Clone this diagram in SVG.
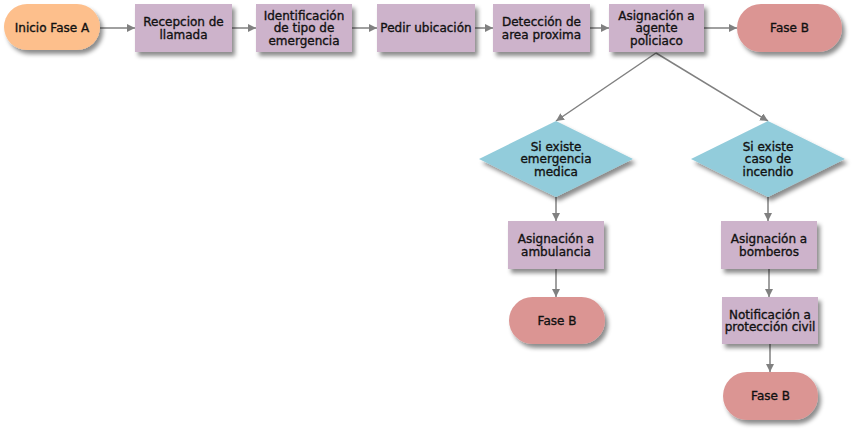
<svg xmlns="http://www.w3.org/2000/svg" width="859" height="432" viewBox="0 0 859 432">
<defs>
<filter id="sh" x="-20%" y="-20%" width="150%" height="160%">
<feDropShadow dx="3" dy="4" stdDeviation="2" flood-color="#000" flood-opacity="0.45"/>
</filter>
<marker id="ar" viewBox="0 0 10 10" refX="10" refY="5" markerWidth="8" markerHeight="8" markerUnits="userSpaceOnUse" orient="auto">
<path d="M0,0 L10,5 L0,10 z" fill="#808080"/>
</marker>
</defs>
<style>
.start{fill:#FDBF8C;filter:url(#sh)}
.proc{fill:#CDB3CB;filter:url(#sh)}
.end{fill:#DB9593;filter:url(#sh)}
.dec{fill:#92CCDB;filter:url(#sh)}
text{font-family:"DejaVu Sans","Liberation Sans",sans-serif;font-size:12px;fill:#111;stroke:#111;stroke-width:0.35;text-anchor:middle}
.c line{stroke:#808080;stroke-width:1.5;marker-end:url(#ar)}
</style>
<rect width="859" height="432" fill="#fff"/>
<g class="c">
<line x1="100" y1="28" x2="135" y2="28"/>
<line x1="232" y1="28" x2="256" y2="28"/>
<line x1="352" y1="28" x2="377" y2="28"/>
<line x1="475" y1="28" x2="493" y2="28"/>
<line x1="590" y1="28" x2="609" y2="28"/>
<line x1="704" y1="28" x2="737" y2="28"/>
<line x1="656" y1="53" x2="556" y2="121"/>
<line x1="656" y1="53" x2="768" y2="121"/>
<line x1="556" y1="197" x2="556" y2="221"/>
<line x1="556" y1="269" x2="556" y2="297"/>
<line x1="768" y1="197" x2="768" y2="221"/>
<line x1="769" y1="269" x2="769" y2="297"/>
<line x1="770" y1="344" x2="770" y2="372"/>
</g>
<g id="inicio"><rect class="start" x="4" y="4" width="96" height="46" rx="23"/><text x="52" y="32.3">Inicio Fase A</text></g>
<g id="recepcion"><rect class="proc" x="135" y="4" width="97" height="48"/><text x="183.5" y="26">Recepcion de</text><text x="183.5" y="38.5">llamada</text></g>
<g id="identificacion"><rect class="proc" x="256" y="4" width="96" height="48"/><text x="304" y="19.8">Identificación</text><text x="304" y="32.3">de tipo de</text><text x="304" y="44.8">emergencia</text></g>
<g id="pedir"><rect class="proc" x="377" y="4" width="98" height="48"/><text x="426" y="32.3">Pedir ubicación</text></g>
<g id="deteccion"><rect class="proc" x="493" y="4" width="97" height="48"/><text x="541.5" y="26">Detección de</text><text x="541.5" y="38.5">area proxima</text></g>
<g id="agente"><rect class="proc" x="609" y="4" width="95" height="48"/><text x="656.5" y="19.8">Asignación a</text><text x="656.5" y="32.3">agente</text><text x="656.5" y="44.8">policiaco</text></g>
<g id="faseB1"><rect class="end" x="737" y="4" width="105" height="48" rx="24"/><text x="789.5" y="32.3">Fase B</text></g>
<g id="medica"><polygon class="dec" points="556,121 633,159 556,197 479,159"/><text x="556" y="150.8">Si existe</text><text x="556" y="163.3">emergencia</text><text x="556" y="175.8">medica</text></g>
<g id="incendio"><polygon class="dec" points="768,121 845,159 768,197 691,159"/><text x="768" y="150.8">Si existe</text><text x="768" y="163.3">caso de</text><text x="768" y="175.8">incendio</text></g>
<g id="ambulancia"><rect class="proc" x="508" y="221" width="96" height="48"/><text x="556" y="243">Asignación a</text><text x="556" y="255.5">ambulancia</text></g>
<g id="faseB2"><rect class="end" x="509" y="297" width="96" height="47" rx="23.5"/><text x="557" y="324.8">Fase B</text></g>
<g id="bomberos"><rect class="proc" x="721" y="221" width="96" height="48"/><text x="769" y="243">Asignación a</text><text x="769" y="255.5">bomberos</text></g>
<g id="civil"><rect class="proc" x="722" y="297" width="96" height="47"/><text x="770" y="318.5">Notificación a</text><text x="770" y="331">protección civil</text></g>
<g id="faseB3"><rect class="end" x="723" y="372" width="95" height="48" rx="24"/><text x="770.5" y="400.3">Fase B</text></g>
</svg>
